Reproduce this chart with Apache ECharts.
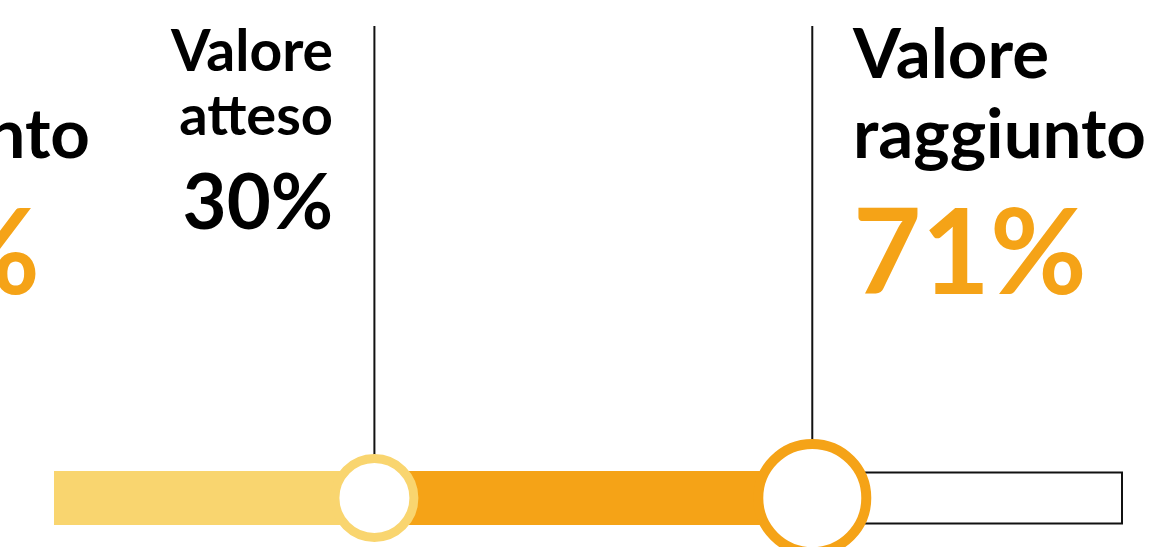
<!DOCTYPE html>
<html lang="it">
<head>
    <meta charset="UTF-8">
    <title>Valore atteso / raggiunto</title>
    <style type="text/css">
        html, body { margin: 0; padding: 0; background: #ffffff; }
        #main { width: 1158px; height: 547px; }
    </style>
</head>
<body>
<div id="main"></div>
<script type="text/javascript" src="https://cdn.jsdelivr.net/npm/echarts@6/dist/echarts.min.js"></script>
<script type="text/javascript">
    // dati
    var etichette = ['Valore atteso', 'Valore raggiunto'];
    var valori = [30, 71];          // percentuali
    var scala = [0, 100];
    var precedente = 71;            // etichetta tagliata a sinistra

    var giallo = '#F9D56F';
    var arancio = '#F5A317';
    var font = 'Lato';

    // segmenti della barra: 0 -> atteso, atteso -> raggiunto, raggiunto -> 100
    var segmenti = [
        [scala[0], valori[0], 0],
        [valori[0], valori[1], 1],
        [valori[1], scala[1], 2]
    ];

    var myChart = echarts.init(document.getElementById('main'));

    function renderSegmento(params, api) {
        var a = api.coord([api.value(0), 0]);
        var b = api.coord([api.value(1), 0]);
        var tipo = api.value(2);
        if (tipo === 2) {
            return {
                type: 'rect',
                shape: { x: a[0], y: a[1] - 25.5, width: b[0] - a[0], height: 51 },
                style: { fill: '#ffffff', stroke: '#111111', lineWidth: 2 }
            };
        }
        return {
            type: 'rect',
            shape: { x: a[0], y: a[1] - 27, width: b[0] - a[0], height: 54 },
            style: { fill: tipo === 0 ? giallo : arancio }
        };
    }

    var testo = function (x, y, str, size, weight, color, align) {
        return {
            type: 'text', x: x, y: y, z: 10,
            style: {
                text: str, fill: color, font: weight + ' ' + size + 'px ' + font,
                align: align, verticalAlign: 'middle'
            }
        };
    };

    var option = {
        animation: false,
        grid: { left: 54, right: 36, top: 26, bottom: 49 },
        xAxis: { type: 'value', min: scala[0], max: scala[1], show: false },
        yAxis: { type: 'value', min: 0, max: 1, show: false },
        series: [
            {
                type: 'custom',
                renderItem: renderSegmento,
                data: segmenti,
                z: 1
            },
            {
                type: 'line',
                data: [[valori[0], 0], [valori[0], 1]],
                showSymbol: false,
                lineStyle: { color: '#111111', width: 2 },
                z: 2
            },
            {
                type: 'line',
                data: [[valori[1], 0], [valori[1], 1]],
                showSymbol: false,
                lineStyle: { color: '#111111', width: 2 },
                z: 2
            },
            {
                type: 'scatter',
                clip: false,
                z: 3,
                data: [
                    { value: [valori[0], 0], symbolSize: 79,
                      itemStyle: { color: '#ffffff', borderColor: giallo, borderWidth: 9, opacity: 1 } },
                    { value: [valori[1], 0], symbolSize: 108,
                      itemStyle: { color: '#ffffff', borderColor: arancio, borderWidth: 10, opacity: 1 } }
                ]
            }
        ],
        graphic: [
            // etichetta tagliata sul bordo sinistro
            testo(90, 136, 'raggiunto', 69, 'bold', '#000000', 'right'),
            testo(40, 256, precedente + '%', 118, 'bold', arancio, 'right'),
            // valore atteso
            testo(333, 53, 'Valore', 57, 'bold', '#000000', 'right'),
            testo(333, 117, 'atteso', 56, 'bold', '#000000', 'right'),
            testo(333, 204, valori[0] + '%', 76, 'bold', '#000000', 'right'),
            // valore raggiunto
            testo(853, 56, 'Valore', 69, 'bold', '#000000', 'left'),
            testo(853, 136, 'raggiunto', 69, 'bold', '#000000', 'left'),
            testo(853, 256, valori[1] + '%', 118, 'bold', arancio, 'left')
        ]
    };
    myChart.setOption(option);
</script>
</body>
</html>
